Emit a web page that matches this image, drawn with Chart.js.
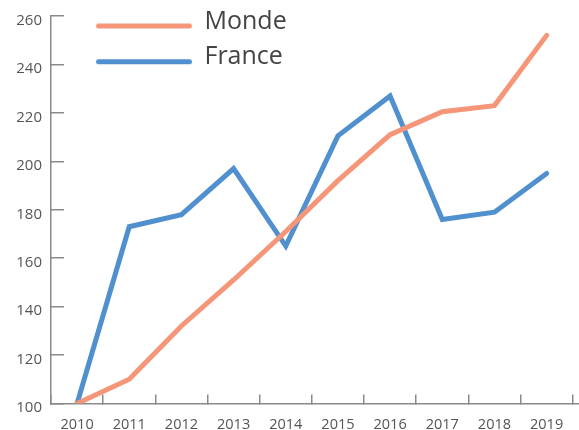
<!DOCTYPE html>
<html>
<head>
<meta charset="utf-8">
<script src="https://cdn.jsdelivr.net/npm/chart.js@4"></script>
<style>
  html, body { margin: 0; padding: 0; background: #fff; }
</style>
</head>
<body>
<canvas id="chart" width="579" height="430"></canvas>
<script>
const years = ['2010', '2011', '2012', '2013', '2014', '2015', '2016', '2017', '2018', '2019'];
const monde = [100, 110, 132, 151, 171, 192, 211, 220.5, 223, 252];
const france = [100, 173, 178, 197, 165, 210.5, 227, 176, 179, 195];
const yTicks = [100, 120, 140, 160, 180, 200, 220, 240, 260];

const orange = 'rgb(246, 150, 121)';
const blue = 'rgb(80, 144, 206)';
const axisColor = '#8a8a8a';
const textColor = '#555555';

// legend symbol: a thick round-capped line sitting a bit below the text middle
function legendLine(color) {
    const c = document.createElement('canvas');
    c.width = 96;
    c.height = 20;
    const g = c.getContext('2d');
    g.strokeStyle = color;
    g.lineWidth = 5;
    g.lineCap = 'round';
    g.beginPath();
    g.moveTo(2.5, 14.5);
    g.lineTo(93.5, 14.5);
    g.stroke();
    return c;
}

// put the legend where it is in the picture and let the x axis line run to the edge
const placeThings = {
    id: 'placeThings',
    afterLayout(chart) {
        chart.legend.left = 85.3;
        chart.legend.top = -1.7;
        chart.scales.x.right = 579;
    }
};

const ctx = document.getElementById('chart').getContext('2d');
const myChart = new Chart(ctx, {
    type: 'line',
    data: {
        labels: years,
        datasets: [
            {
                label: 'Monde',
                data: monde,
                borderColor: orange,
                backgroundColor: orange,
                borderWidth: 5,
                borderCapStyle: 'round',
                pointRadius: 0,
                pointStyle: legendLine(orange),
                tension: 0
            },
            {
                label: 'France',
                data: france,
                borderColor: blue,
                backgroundColor: blue,
                borderWidth: 5,
                borderCapStyle: 'round',
                pointRadius: 0,
                pointStyle: legendLine(blue),
                tension: 0
            }
        ]
    },
    options: {
        responsive: false,
        animation: false,
        layout: { padding: { top: 16, right: 6.3, left: 0, bottom: 0 } },
        plugins: {
            tooltip: { enabled: false },
            legend: {
                position: 'chartArea',
                align: 'start',
                labels: {
                    usePointStyle: true,
                    pointStyleWidth: 96,
                    padding: 10.7,
                    color: '#444444',
                    font: { family: 'Open Sans', size: 25 }
                }
            }
        },
        scales: {
            x: {
                offset: true,
                grid: {
                    offset: true,
                    drawOnChartArea: false,
                    tickLength: -9,
                    color: axisColor,
                    lineWidth: 1.5
                },
                border: { color: axisColor, width: 1.5 },
                ticks: {
                    color: textColor,
                    padding: 22,
                    maxRotation: 0,
                    autoSkip: false,
                    font: { family: 'Open Sans', size: 14.5 }
                },
                afterFit(scale) {
                    scale.height = 26.5;
                    scale.paddingLeft = 0;
                    scale.paddingRight = 0;
                }
            },
            y: {
                min: yTicks[0],
                max: yTicks[yTicks.length - 1],
                grid: {
                    drawOnChartArea: false,
                    tickLength: -13,
                    color: axisColor,
                    lineWidth: 1.5
                },
                border: { color: axisColor, width: 1.5 },
                ticks: {
                    stepSize: 20,
                    color: textColor,
                    padding: 22,
                    labelOffset: 4.5,
                    font: { family: 'Open Sans', size: 15 }
                },
                afterFit(scale) {
                    scale.width = 51;
                    scale.paddingTop = 8;
                    scale.paddingBottom = 8;
                }
            }
        }
    },
    plugins: [placeThings]
});
</script>
</body>
</html>
